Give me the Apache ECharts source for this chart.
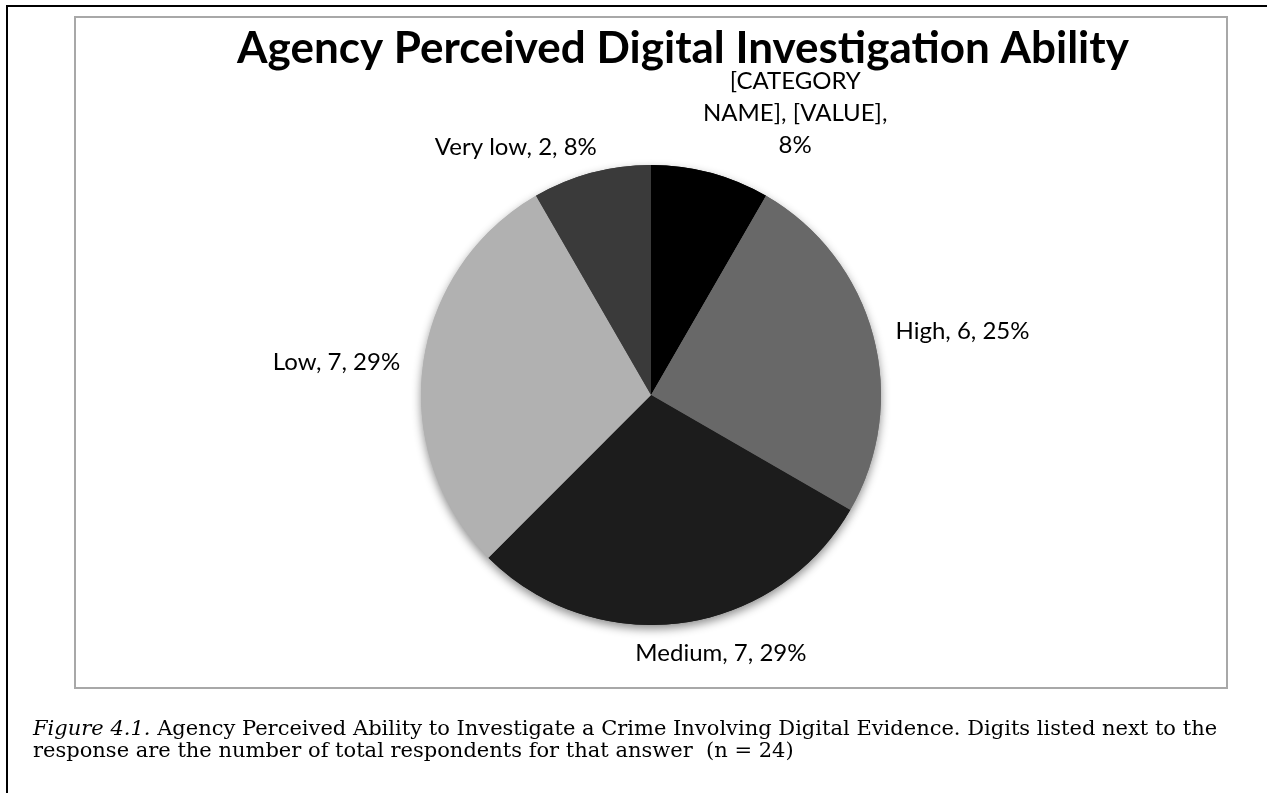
<!DOCTYPE html>
<html>
<head>
<meta charset="utf-8">
<script src="https://cdn.jsdelivr.net/npm/echarts@6/dist/echarts.min.js"></script>
<style>
html,body{margin:0;padding:0;background:#fff;}
#chart{width:1267px;height:793px;}
</style>
</head>
<body>
<div id="chart"></div>
<script>
const categories = ['[CATEGORY NAME]', 'High', 'Medium', 'Low', 'Very low'];
const values = [2, 6, 7, 7, 2];
const sliceColors = ['#000000', '#686868', '#1c1c1c', '#b1b1b1', '#3a3a3a'];
const chartTitle = 'Agency Perceived Digital Investigation Ability';
const captionItalic = 'Figure 4.1.';
const captionLine1 = ' Agency Perceived Ability to Investigate a Crime Involving Digital Evidence. Digits listed next to the';
const captionLine2 = 'response are the number of total respondents for that answer  (n = 24)';

const data = categories.map((c, i) => ({ name: c, value: values[i], itemStyle: { color: sliceColors[i] } }));

const chart = echarts.init(document.getElementById('chart'), null, { renderer: 'canvas' });

function labelText(p) {
  const pct = Math.round(p.percent) + '%';
  if (p.dataIndex === 0) return '[CATEGORY\nNAME], [VALUE],\n' + pct;
  return p.name + ', ' + p.value + ', ' + pct;
}

// small nudges of label text so it sits where the original chart placed it
const labelNudges = {
  0: { align: 'center', dx: 75, dy: -42 },
  2: { dx: -53, dy: 12 },
  4: { dx: 15, dy: -8 }
};

chart.setOption({
  animation: false,
  backgroundColor: '#fff',
  title: [{
    text: chartTitle,
    left: 232, top: 22,
    textStyle: { fontFamily: 'Lato', fontWeight: 'bold', fontSize: 44, color: '#000' }
  }, {
    text: '{i|' + captionItalic + '}{n|' + captionLine1 + '}\n{n|' + captionLine2 + '}',
    left: 28, top: 714,
    textStyle: {
      fontWeight: 'normal',
      rich: {
        i: { fontFamily: 'DejaVu Serif', fontStyle: 'italic', fontWeight: 'normal', fontSize: 21, color: '#000', lineHeight: 22 },
        n: { fontFamily: 'DejaVu Serif', fontWeight: 'normal', fontSize: 21, color: '#000', lineHeight: 22 }
      }
    }
  }],
  graphic: [
    { type: 'line', shape: { x1: 7, y1: 6, x2: 1267, y2: 6 }, style: { stroke: '#000', lineWidth: 2 } },
    { type: 'line', shape: { x1: 7, y1: 5, x2: 7, y2: 793 }, style: { stroke: '#000', lineWidth: 2 } },
    { type: 'rect', shape: { x: 75, y: 17, width: 1152, height: 671 }, style: { fill: 'none', stroke: '#a8a8a8', lineWidth: 2 }, z: -1 }
  ],
  series: [{
    type: 'pie',
    silent: true,
    center: [651, 395],
    radius: 230,
    startAngle: 90,
    clockwise: true,
    z: 1,
    label: { show: false },
    labelLine: { show: false },
    itemStyle: { borderWidth: 0, shadowBlur: 10, shadowOffsetY: 4, shadowColor: 'rgba(0,0,0,0.45)' },
    data: data
  }, {
    type: 'pie',
    center: [651, 395],
    radius: 230,
    startAngle: 90,
    clockwise: true,
    z: 2,
    itemStyle: { borderWidth: 0 },
    label: {
      show: true,
      position: 'outside',
      formatter: labelText,
      fontFamily: 'Lato',
      fontSize: 24,
      lineHeight: 32,
      color: '#000'
    },
    labelLine: { show: false, length: 18, length2: 0 },
    labelLayout: function (params) {
      return labelNudges[params.dataIndex] || {};
    },
    data: data
  }]
});
</script>
</body>
</html>
